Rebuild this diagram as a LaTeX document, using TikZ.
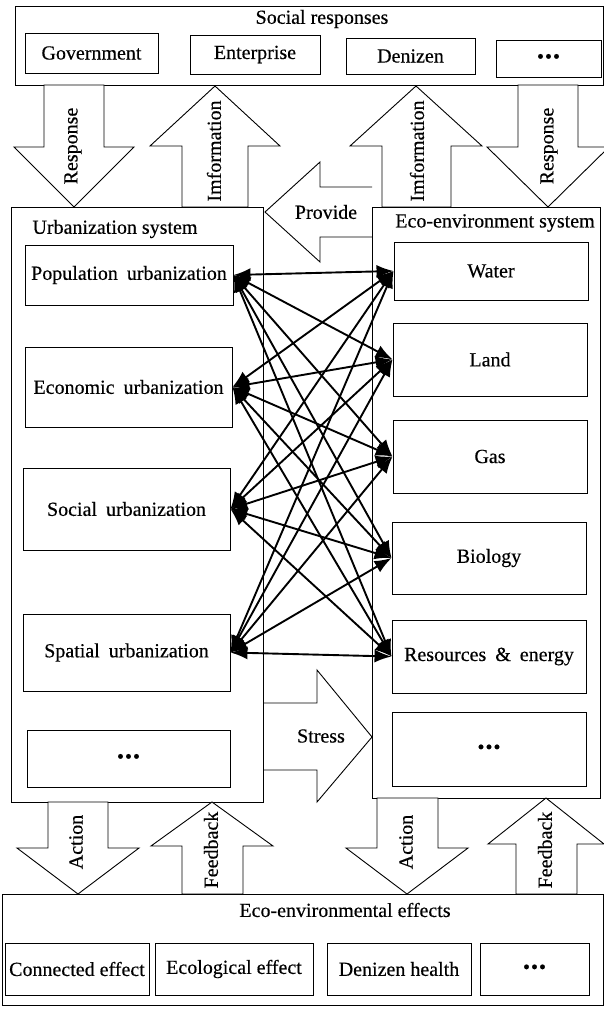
\documentclass[tikz,border=0pt]{standalone}
\usepackage{fontspec}
\setmainfont[FakeBold=0.4]{Liberation Serif}
\usetikzlibrary{arrows.meta}
\begin{document}
\begin{tikzpicture}[x=1pt,y=-1pt,
  box/.style={draw, line width=0.9pt, inner sep=0pt, font=\fontsize{20}{24}\selectfont},
  blk/.style={draw, line width=0.9pt, fill=white, line join=miter},
  lbl/.style={inner sep=0pt, font=\fontsize{20}{24}\selectfont},
  vlbl/.style={inner sep=0pt, rotate=90, font=\fontsize{20}{24}\selectfont},
  link/.style={line width=1.9pt, {Latex[length=17pt,width=13pt]}-{Latex[length=17pt,width=13pt]}}]
\useasboundingbox (0,0) rectangle (604,1009);
\newcommand\dotsym{{\fontsize{20}{22}\selectfont •\hspace{1pt}•\hspace{1pt}•}}

% ---------- top: social responses ----------
\node[box, minimum width=588pt, minimum height=79pt] (social) at (309,45.5) {};
\node[lbl] (socialt) at (322,19) {Social responses};
\node[box, minimum width=133pt, minimum height=40pt] (gov) at (91.5,53) {Government};
\node[box, minimum width=130pt, minimum height=39pt] (ent) at (255,54.5) {Enterprise};
\node[box, minimum width=129pt, minimum height=36pt] (den) at (410.5,56) {Denizen};
\node[box, minimum width=105pt, minimum height=37pt] (sdots) at (548.5,58.5) {\dotsym};

% ---------- block arrows top ----------
\draw[blk] (44,85) -- (104,85) -- (104,147) -- (134,147) -- (74,207) -- (14,147) -- (44,147) -- cycle;
\node[vlbl] (resp1) at (73,146) {Response};
\draw[blk] (182,207) -- (182,146) -- (150,146) -- (215,86) -- (280,146) -- (248,146) -- (248,207) -- cycle;
\node[vlbl] (info1) at (214,151) {Imformation};
\draw[blk] (382,207) -- (382,146) -- (350,146) -- (416,86) -- (482,146) -- (451,146) -- (451,207) -- cycle;
\node[vlbl] (info2) at (417,151) {Imformation};
\draw[blk] (518,85) -- (578,85) -- (578,147) -- (609,147) -- (548,207) -- (487,147) -- (518,147) -- cycle;
\node[vlbl] (resp2) at (549,146) {Response};

% ---------- Provide and Stress ----------
\draw[blk] (372,187) -- (320,187) -- (320,162) -- (265,212) -- (320,262) -- (320,237) -- (372,237);
\node[lbl] (provide) at (326,212) {Provide};
\draw[blk] (263,703) -- (317,703) -- (317,670) -- (372,737) -- (317,802) -- (317,770) -- (263,770);
\node[lbl] (stress) at (321,736) {Stress};

% ---------- urbanization system ----------
\node[box, minimum width=252pt, minimum height=595pt] (urb) at (137,504.5) {};
\node[lbl] (urbt) at (115,229) {Urbanization system};
\node[box, minimum width=208pt, minimum height=60pt] (pop) at (129,275) {Population\hspace{4pt} urbanization};
\node[box, minimum width=207pt, minimum height=80pt] (eco) at (128.5,387) {Economic\hspace{4pt} urbanization};
\node[box, minimum width=207pt, minimum height=82pt] (soc) at (126.5,509) {Social\hspace{4pt} urbanization};
\node[box, minimum width=207pt, minimum height=77pt] (spa) at (126.5,652.5) {Spatial\hspace{4pt} urbanization};
\node[box, minimum width=203pt, minimum height=57pt] (udots) at (128.5,758.5) {\dotsym};

% ---------- eco-environment system ----------
\node[box, minimum width=228pt, minimum height=591pt] (env) at (486,502.5) {};
\node[lbl] (envt) at (495,223) {Eco-environment system};
\node[box, minimum width=194pt, minimum height=58pt] (water) at (491,271) {Water};
\node[box, minimum width=194pt, minimum height=73pt] (land) at (490,359.5) {Land};
\node[box, minimum width=194pt, minimum height=73pt] (gas) at (490,456.5) {Gas};
\node[box, minimum width=194pt, minimum height=72pt] (bio) at (489,558) {Biology};
\node[box, minimum width=194pt, minimum height=73pt] (res) at (489,656.5) {Resources\hspace{4pt} \&\hspace{4pt} energy};
\node[box, minimum width=194pt, minimum height=74pt] (edots) at (489,749) {\dotsym};

% ---------- block arrows bottom ----------
\draw[blk] (48,802) -- (108,802) -- (108,848) -- (139,848) -- (78,894) -- (17,848) -- (48,848) -- cycle;
\node[vlbl] (act1) at (76,842) {Action};
\draw[blk] (182,894) -- (182,846) -- (151,846) -- (212,802) -- (273,846) -- (243,846) -- (243,894) -- cycle;
\node[vlbl] (fb1) at (211,850) {Feedback};
\draw[blk] (377,798) -- (438,798) -- (438,848) -- (468,848) -- (407,894) -- (346,848) -- (377,848) -- cycle;
\node[vlbl] (act2) at (406,842) {Action};
\draw[blk] (516,894) -- (516,844) -- (488,844) -- (546,798) -- (604,844) -- (577,844) -- (577,894) -- cycle;
\node[vlbl] (fb2) at (545,850) {Feedback};

% ---------- bottom: effects ----------
\node[box, minimum width=601pt, minimum height=111pt] (effects) at (302.5,949.5) {};
\node[lbl] (effectst) at (345,910) {Eco-environmental effects};
\node[box, minimum width=144pt, minimum height=52pt] (conn) at (77,969) {Connected effect};
\node[box, minimum width=158pt, minimum height=52pt] (ecol) at (234,969) {Ecological effect};
\node[box, minimum width=144pt, minimum height=52pt] (dhealth) at (399,969) {Denizen health};
\node[box, minimum width=109pt, minimum height=52pt] (bdots) at (534.5,969) {\dotsym};

% ---------- interaction links ----------
\foreach \u in {pop,eco,soc,spa}{
  \foreach \e in {water,land,gas,bio,res}{
    \draw[link] (\u.east) -- (\e.west);
  }
}
\end{tikzpicture}
\end{document}
